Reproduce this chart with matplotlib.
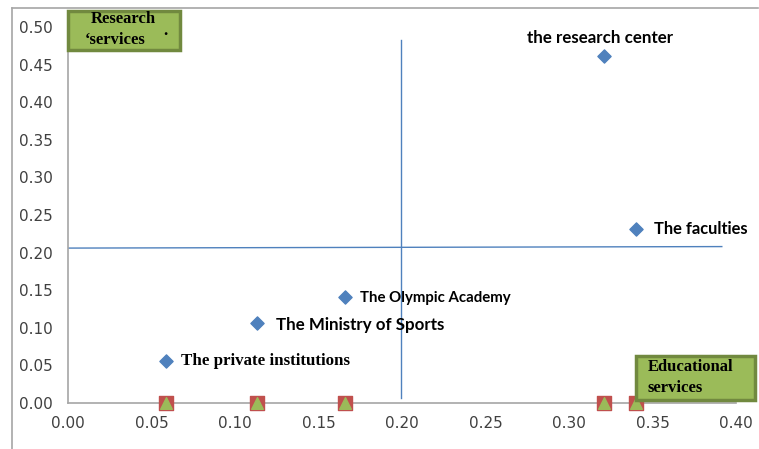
import numpy as np
import matplotlib.pyplot as plt
from matplotlib.lines import Line2D
from matplotlib.patches import Rectangle

# data
names = ['the research center', 'The faculties', 'The Olympic Academy',
         'The Ministry of Sports', 'The private institutions']
x_vals = [0.321, 0.340, 0.166, 0.113, 0.0585]
y_vals = [0.461, 0.231, 0.141, 0.106, 0.056]
# the same x values also sit on the x axis as squares and triangles
base_vals = [0.0, 0.0, 0.0, 0.0, 0.0]

# quadrant lines
v_line_x = [0.1995, 0.1995]
v_line_y = [0.006, 0.483]
h_line_x = [0.0, 0.3915]
h_line_y = [0.206, 0.208]

x_ticks = np.arange(0, 0.401, 0.05)
y_ticks = np.arange(0, 0.501, 0.05)

W, H = 759, 449
fig = plt.figure(figsize=(W / 100, H / 100), dpi=100)
ax = fig.add_axes([68 / W, 1 - 403 / H, 668 / W, 376 / H])


def fx(px):
    return px / W


def fy(py):
    return 1 - py / H


# outer frame (top and left only, as in the screenshot)
fig.add_artist(Line2D([fx(12), fx(758)], [fy(8), fy(8)], color='#a6a6a6', lw=1.2))
fig.add_artist(Line2D([fx(12), fx(12)], [0, fy(8)], color='#a6a6a6', lw=1.2))

ax.plot(v_line_x, v_line_y, color='#4f81bd', lw=1)
ax.plot(h_line_x, h_line_y, color='#4f81bd', lw=1)

ax.scatter(x_vals, base_vals, marker='s', s=90, color='#c0504d', zorder=4, clip_on=False)
ax.scatter(x_vals, base_vals, marker='^', s=70, color='#9bbb59', zorder=5, clip_on=False)
ax.scatter(x_vals, y_vals, marker='D', s=45, color='#4f81bd', zorder=5)

# point labels (offsets in points)
sans = ['Lato', 'DejaVu Sans']
serif = ['Liberation Serif', 'DejaVu Serif']
ax.annotate(names[0], (x_vals[0], y_vals[0]), xytext=(-3, 13), textcoords='offset points',
            ha='center', va='center', fontsize=12.2, fontweight='bold', family=sans)
ax.annotate(names[1], (x_vals[1], y_vals[1]), xytext=(13, 0), textcoords='offset points',
            ha='left', va='center', fontsize=11.9, fontweight='bold', family=sans)
ax.annotate(names[2], (x_vals[2], y_vals[2]), xytext=(11, -1), textcoords='offset points',
            ha='left', va='center', fontsize=10.8, fontweight='bold', family=sans)
ax.annotate(names[3], (x_vals[3], y_vals[3]), xytext=(14, -1), textcoords='offset points',
            ha='left', va='center', fontsize=12.2, fontweight='bold', family=sans)
ax.annotate(names[4], (x_vals[4], y_vals[4]), xytext=(11, 0), textcoords='offset points',
            ha='left', va='center', fontsize=12.2, fontweight='bold', family=serif)

# green corner boxes
for (x0, y0, x1, y1) in [(68, 11, 180, 50), (636, 356, 755, 400)]:
    fig.add_artist(Rectangle((fx(x0), fy(y1)), fx(x1 - x0), (y1 - y0) / H,
                             facecolor='#9bbb59', edgecolor='#71893f', lw=2.5, zorder=6))
fig.text(fx(123), fy(19), 'Research', ha='center', va='center', fontsize=12,
         fontweight='bold', family=serif, zorder=7)
fig.text(fx(115), fy(40), '\u2018services', ha='center', va='center', fontsize=12,
         fontweight='bold', family=serif, zorder=7)
fig.text(fx(165), fy(31), '.', ha='center', va='center', fontsize=12,
         fontweight='bold', family=serif, zorder=7)
fig.text(fx(648), fy(367), 'Educational', ha='left', va='center', fontsize=12,
         fontweight='bold', family=serif, zorder=7)
fig.text(fx(648), fy(388), 'services', ha='left', va='center', fontsize=12,
         fontweight='bold', family=serif, zorder=7)

ax.set_xlim(0, 0.40)
ax.set_ylim(0, 0.50)
ax.set_xticks(x_ticks)
ax.set_yticks(y_ticks)
ax.set_xticklabels([f'{t:.2f}' for t in x_ticks])
ax.set_yticklabels([f'{t:.2f}' for t in y_ticks])
ax.tick_params(length=0, labelsize=11, labelcolor='#404040', pad=9)
ax.tick_params(axis='y', pad=11)
for s in ['top', 'right']:
    ax.spines[s].set_visible(False)
for s in ['left', 'bottom']:
    ax.spines[s].set_color('#a6a6a6')
    ax.spines[s].set_linewidth(1.2)

fig.savefig('out.png', dpi=100)
